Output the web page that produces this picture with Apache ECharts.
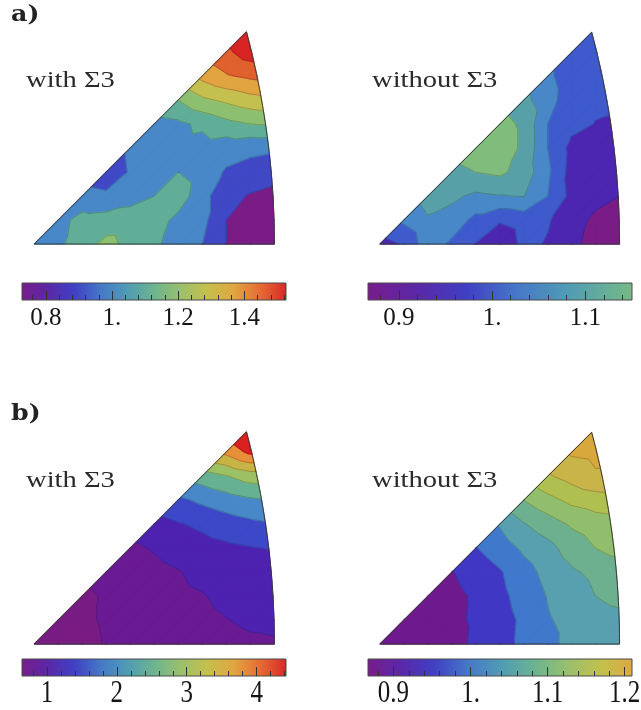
<!DOCTYPE html>
<html>
<head>
<meta charset="utf-8">
<script src="https://cdn.jsdelivr.net/npm/echarts@6.0.0/dist/echarts.min.js"></script>
<style>
html,body{margin:0;padding:0;background:#fff;}
#chart{width:641px;height:710px;}
</style>
</head>
<body>
<div id="chart"></div>
<script>
// ================= DATA =================
// Node values on a regular grid in stereographic coordinates of the standard triangle:
// column i = 0..10 (x from 0 to tan 22.5°), row j = 0..9 (y upward). null = not used (outside).
const aWithValues = [
  [0.95, 0.98, 1.05, 1.13, 1.07, 1.02, 0.95, 0.90, 0.80, 0.75, 0.74],
  [null, 0.97, 1.03, 1.04, 1.05, 1.05, 0.97, 0.93, 0.80, 0.76, 0.75],
  [null, null, 0.94, 0.92, 0.96, 1.00, 1.06, 0.93, 0.84, 0.79, 0.76],
  [null, null, null, 0.83, 0.91, 0.97, 1.00, 0.95, 0.89, 0.87, 0.85],
  [null, null, null, null, 0.92, 0.96, 0.97, 0.96, 0.94, 0.92, 0.91],
  [null, null, null, null, null, 0.96, 0.98, 1.02, 1.07, 1.10, 1.11],
  [null, null, null, null, null, null, 1.10, 1.18, 1.22, 1.26, 1.28],
  [null, null, null, null, null, null, null, 1.33, 1.39, 1.42, 1.44],
  [null, null, null, null, null, null, null, null, 1.48, 1.55, 1.56],
  [null, null, null, null, null, null, null, null, null, 1.60, 1.60]
];
const aWithoutValues = [
  [0.93, 0.955, 1.03, 0.99, 0.948, 0.915, 0.962, 0.946, 0.91, 0.885, 0.875],
  [null, 1.01, 1.045, 1.03, 0.985, 0.955, 0.97, 0.955, 0.92, 0.89, 0.88],
  [null, null, 1.07, 1.06, 1.04, 1.048, 1.052, 1.0, 0.935, 0.915, 0.90],
  [null, null, null, 1.09, 1.10, 1.11, 1.08, 1.01, 0.93, 0.91, 0.905],
  [null, null, null, null, 1.12, 1.13, 1.09, 1.0, 0.935, 0.91, 0.905],
  [null, null, null, null, null, 1.12, 1.09, 1.0, 0.965, 0.948, 0.945],
  [null, null, null, null, null, null, 1.065, 1.02, 0.97, 0.96, 0.955],
  [null, null, null, null, null, null, null, 1.01, 0.975, 0.965, 0.96],
  [null, null, null, null, null, null, null, null, 0.97, 0.965, 0.96],
  [null, null, null, null, null, null, null, null, null, 0.965, 0.96]
];
const bWithValues = [
  [0.70, 0.72, 0.75, 0.81, 0.90, 0.95, 1.00, 1.05, 1.10, 1.15, 1.17],
  [null, 0.74, 0.77, 0.82, 0.92, 0.98, 1.05, 1.12, 1.19, 1.25, 1.26],
  [null, null, 0.76, 0.82, 0.95, 1.05, 1.12, 1.18, 1.28, 1.35, 1.38],
  [null, null, null, 0.88, 1.00, 1.10, 1.18, 1.30, 1.40, 1.45, 1.50],
  [null, null, null, null, 1.12, 1.23, 1.35, 1.45, 1.52, 1.58, 1.62],
  [null, null, null, null, null, 1.45, 1.57, 1.68, 1.81, 1.91, 1.98],
  [null, null, null, null, null, null, 1.92, 2.08, 2.22, 2.34, 2.42],
  [null, null, null, null, null, null, null, 2.60, 2.78, 2.99, 3.05],
  [null, null, null, null, null, null, null, null, 3.72, 4.10, 4.10],
  [null, null, null, null, null, null, null, null, null, 4.60, 4.50]
];
const bWithoutValues = [
  [0.86, 0.87, 0.88, 0.885, 0.908, 0.927, 0.948, 0.971, 0.99, 1.0, 1.01],
  [null, 0.87, 0.88, 0.89, 0.906, 0.925, 0.947, 0.977, 0.99, 1.005, 1.01],
  [null, null, 0.88, 0.89, 0.905, 0.93, 0.955, 0.982, 0.998, 1.02, 1.03],
  [null, null, null, 0.898, 0.916, 0.936, 0.965, 0.992, 1.014, 1.03, 1.04],
  [null, null, null, null, 0.938, 0.96, 0.987, 1.007, 1.037, 1.06, 1.075],
  [null, null, null, null, null, 0.983, 1.017, 1.041, 1.065, 1.08, 1.095],
  [null, null, null, null, null, null, 1.06, 1.087, 1.11, 1.12, 1.125],
  [null, null, null, null, null, null, null, 1.135, 1.155, 1.175, 1.18],
  [null, null, null, null, null, null, null, null, 1.185, 1.19, 1.19],
  [null, null, null, null, null, null, null, null, null, 1.205, 1.21]
];

// contour levels
const aWithLevels = [0.8, 0.9, 1.0, 1.1, 1.2, 1.3, 1.4, 1.5];
const aWithoutLevels = [0.9, 0.95, 1.0, 1.05, 1.1];
const bWithLevels = [0.8, 1.2, 1.6, 2.0, 2.4, 2.8, 3.2, 3.6, 4.0];
const bWithoutLevels = [0.9, 0.94, 0.98, 1.02, 1.06, 1.10, 1.14, 1.18];

// colour-bar ranges, tick values and tick labels
const aWithBarRange = [0.728, 1.526];
const aWithTicks = [0.8, 1.0, 1.2, 1.4];
const aWithTickLabels = ['0.8', '1.', '1.2', '1.4'];
const aWithMinorStep = 0.04;

const aWithoutBarRange = [0.867, 1.150];
const aWithoutTicks = [0.9, 1.0, 1.1];
const aWithoutTickLabels = ['0.9', '1.', '1.1'];
const aWithoutMinorStep = 0.02;

const bWithBarRange = [0.643, 4.42];
const bWithTicks = [1, 2, 3, 4];
const bWithTickLabels = ['1', '2', '3', '4'];
const bWithMinorStep = 0.2;

const bWithoutBarRange = [0.867, 1.2095];
const bWithoutTicks = [0.9, 1.0, 1.1, 1.2];
const bWithoutTickLabels = ['0.9', '1.', '1.1', '1.2'];
const bWithoutMinorStep = 0.02;

const panelTitles = ['with Σ3', 'without Σ3', 'with Σ3', 'without Σ3'];
const rowLabels = ['a)', 'b)'];

// ================= STYLES =================
const rainbowStops = [
  [0, '#781c8a'], [0.1, '#5a28a8'], [0.2, '#4040c4'], [0.3, '#4678c8'], [0.4, '#509cb4'],
  [0.5, '#6cb490'], [0.6, '#9ac06c'], [0.7, '#c4c04c'], [0.8, '#e0a640'], [0.9, '#e66c34'], [1, '#d82828']
];
// how far along the rainbow each colour bar runs
const barRainbowEnd = [1, 0.53, 1, 0.79];
const aWithBandColors = ['#7a1c86', '#4048c6', '#4888c8', '#60ae98', '#8cc070', '#c4c050', '#e0a440', '#e0602e', '#d82424'];
const aWithoutBandColors = ['#7a1c86', '#4c26b0', '#3e5acc', '#4888c8', '#58a0a8', '#80bc7c'];
const bWithBandColors = ['#781c84', '#6a1a92', '#4e22b0', '#3c48c8', '#4888c8', '#66b094', '#9cc064', '#c8b444', '#e89038', '#dc2020'];
const bWithoutBandColors = ['#6e1a8e', '#4038c4', '#4078cc', '#58a0b0', '#6cb090', '#90be6c', '#b0c050', '#c8b448', '#d8a83c'];

// ================= GEOMETRY =================
const X101 = Math.tan(Math.PI / 8);          // [101] on the x axis
const Y111 = (Math.sqrt(3) - 1) / 2;         // [111] at (Y111, Y111)
const STEP = X101 / 10;                      // node spacing

function insideArc(p) { return (p[0] + 1) * (p[0] + 1) + p[1] * p[1] <= 2 + 1e-12; }
function arcCut(p, q) {
  const ax = p[0] + 1, ay = p[1], dx = q[0] - p[0], dy = q[1] - p[1], dv = q[2] - p[2];
  const A = dx * dx + dy * dy, B = 2 * (ax * dx + ay * dy), C = ax * ax + ay * ay - 2;
  const D = Math.sqrt(Math.max(0, B * B - 4 * A * C));
  let t = (-B + D) / (2 * A);
  if (t < 0 || t > 1) t = (-B - D) / (2 * A);
  t = Math.min(1, Math.max(0, t));
  return [p[0] + t * dx, p[1] + t * dy, p[2] + t * dv];
}
function clipPoly(poly, inside, cut) {
  const out = [];
  for (let k = 0; k < poly.length; k++) {
    const p = poly[k], q = poly[(k + 1) % poly.length];
    const pin = inside(p), qin = inside(q);
    if (pin) { out.push(p); if (!qin) out.push(cut(p, q)); }
    else if (qin) out.push(cut(p, q));
  }
  return out;
}
function levelCut(L) {
  return (p, q) => {
    const t = (L - p[2]) / (q[2] - p[2]);
    return [p[0] + t * (q[0] - p[0]), p[1] + t * (q[1] - p[1]), L];
  };
}
function triangle(vals, i, j, t) {
  const idx = t === 0 ? [[i, j], [i + 1, j], [i + 1, j + 1]] : [[i, j], [i + 1, j + 1], [i, j + 1]];
  const pts = [];
  for (const [a, b] of idx) {
    const v = vals[b][a];
    if (v == null) return null;
    pts.push([a * STEP, b * STEP, v]);
  }
  const c = clipPoly(pts, insideArc, arcCut);
  return c.length >= 3 ? c : null;
}
function triData(vals) {
  const data = [];
  for (let j = 0; j < vals.length - 1; j++) {
    for (let i = 0; i < vals[0].length - 1; i++) {
      for (let t = 0; t < 2; t++) {
        const poly = triangle(vals, i, j, t);
        if (!poly) continue;
        let cx = 0, cy = 0;
        poly.forEach(p => { cx += p[0]; cy += p[1]; });
        data.push([cx / poly.length, cy / poly.length, i, j, t]);
      }
    }
  }
  return data;
}
function hexToRgb(h) { return [1, 3, 5].map(k => parseInt(h.substr(k, 2), 16)); }
function rainbowAt(t) {
  for (let k = 1; k < rainbowStops.length; k++) {
    if (t <= rainbowStops[k][0] + 1e-12) {
      const [t0, c0] = rainbowStops[k - 1], [t1, c1] = rainbowStops[k];
      const f = (t - t0) / (t1 - t0), a = hexToRgb(c0), b = hexToRgb(c1);
      return 'rgb(' + a.map((x, n) => Math.round(x + f * (b[n] - x))).join(',') + ')';
    }
  }
  return rainbowStops[rainbowStops.length - 1][1];
}
function barGradient(end) {
  const stops = rainbowStops.filter(s => s[0] < end - 1e-9).map(s => ({ offset: s[0] / end, color: s[1] }));
  stops.push({ offset: 1, color: rainbowAt(end) });
  return new echarts.graphic.LinearGradient(0, 0, 1, 0, stops);
}

const panels = [
  { vals: aWithValues, levels: aWithLevels, colors: aWithBandColors, left: 34.3, bottom: 244, width: 240 },
  { vals: aWithoutValues, levels: aWithoutLevels, colors: aWithoutBandColors, left: 380, bottom: 244, width: 239.5 },
  { vals: bWithValues, levels: bWithLevels, colors: bWithBandColors, left: 34.3, bottom: 644, width: 240 },
  { vals: bWithoutValues, levels: bWithoutLevels, colors: bWithoutBandColors, left: 380, bottom: 644, width: 239.5 }
];
const bars = [
  { range: aWithBarRange, ticks: aWithTicks, labels: aWithTickLabels, minor: aWithMinorStep, left: 22, top: 283, width: 264, height: 17, labelGap: 5.6, labelScaleY: 1 },
  { range: aWithoutBarRange, ticks: aWithoutTicks, labels: aWithoutTickLabels, minor: aWithoutMinorStep, left: 368, top: 283, width: 264, height: 17, labelGap: 5.6, labelScaleY: 1 },
  { range: bWithBarRange, ticks: bWithTicks, labels: bWithTickLabels, minor: bWithMinorStep, left: 22, top: 659, width: 264, height: 17, labelGap: 1.8, labelScaleY: 1.27 },
  { range: bWithoutBarRange, ticks: bWithoutTicks, labels: bWithoutTickLabels, minor: bWithoutMinorStep, left: 368, top: 659, width: 264, height: 17, labelGap: 1.8, labelScaleY: 1.27 }
];

const grid = [], xAxis = [], yAxis = [], series = [];

panels.forEach((p, k) => {
  const h = p.width * Y111 / X101;
  grid.push({ left: p.left, top: p.bottom - h, width: p.width, height: h });
  xAxis.push({ gridIndex: k, type: 'value', min: 0, max: X101, show: false });
  yAxis.push({ gridIndex: k, type: 'value', min: 0, max: Y111, show: false });
  const data = triData(p.vals);
  // filled bands
  series.push({
    type: 'custom', coordinateSystem: 'cartesian2d', xAxisIndex: k, yAxisIndex: k,
    silent: true, z: 2, encode: { x: 0, y: 1 }, data: data,
    renderItem: (params, api) => {
      const poly = triangle(p.vals, api.value(2), api.value(3), api.value(4));
      const children = [];
      if (poly) {
        for (let b = 0; b <= p.levels.length; b++) {
          let q = poly;
          if (b > 0) { const L = p.levels[b - 1]; q = clipPoly(q, v => v[2] >= L, levelCut(L)); }
          if (q.length >= 3 && b < p.levels.length) { const H = p.levels[b]; q = clipPoly(q, v => v[2] <= H, levelCut(H)); }
          if (q.length < 3) continue;
          children.push({
            type: 'polygon',
            shape: { points: q.map(v => api.coord([v[0], v[1]])) },
            style: { fill: p.colors[b], stroke: p.colors[b], lineWidth: 1.3, lineJoin: 'round' }
          });
        }
      }
      return { type: 'group', children };
    }
  });
  // contour lines
  series.push({
    type: 'custom', coordinateSystem: 'cartesian2d', xAxisIndex: k, yAxisIndex: k,
    silent: true, z: 3, encode: { x: 0, y: 1 }, data: data,
    renderItem: (params, api) => {
      const poly = triangle(p.vals, api.value(2), api.value(3), api.value(4));
      const children = [];
      if (poly) {
        p.levels.forEach(L => {
          const pts = [];
          for (let e = 0; e < poly.length; e++) {
            const a = poly[e], c = poly[(e + 1) % poly.length];
            if ((a[2] >= L) !== (c[2] >= L)) {
              const t = (L - a[2]) / (c[2] - a[2]);
              pts.push(api.coord([a[0] + t * (c[0] - a[0]), a[1] + t * (c[1] - a[1])]));
            }
          }
          if (pts.length === 2) {
            children.push({
              type: 'line',
              shape: { x1: pts[0][0], y1: pts[0][1], x2: pts[1][0], y2: pts[1][1] },
              style: { stroke: 'rgba(30,30,40,0.35)', lineWidth: 0.7 }
            });
          }
        });
      }
      return { type: 'group', children };
    }
  });
  // outline of the standard triangle
  series.push({
    type: 'custom', coordinateSystem: 'cartesian2d', xAxisIndex: k, yAxisIndex: k,
    silent: true, z: 4, encode: { x: 0, y: 1 }, data: [[X101 / 2, Y111 / 2]],
    renderItem: (params, api) => {
      const pts = [api.coord([0, 0]), api.coord([X101, 0])];
      const th = Math.asin(Y111 / Math.SQRT2);
      for (let s = 1; s <= 40; s++) {
        const a = th * s / 40;
        pts.push(api.coord([Math.SQRT2 * Math.cos(a) - 1, Math.SQRT2 * Math.sin(a)]));
      }
      pts.push(api.coord([0, 0]));
      return { type: 'polyline', shape: { points: pts }, style: { stroke: '#3a3a3a', lineWidth: 1, fill: null } };
    }
  });
});

bars.forEach((b, n) => {
  const g = grid.length;
  grid.push({ left: b.left, top: b.top, width: b.width, height: b.height });
  const minors = [];
  for (let v = Math.ceil(b.range[0] / b.minor - 1e-9) * b.minor; v <= b.range[1] + 1e-9; v += b.minor) {
    const r = Math.round(v / b.minor) * b.minor;
    if (!b.ticks.some(m => Math.abs(m - r) < 1e-6)) minors.push(+r.toFixed(6));
  }
  xAxis.push({
    gridIndex: g, type: 'value', min: b.range[0], max: b.range[1], position: 'bottom', z: 6,
    axisLine: { show: false }, splitLine: { show: false }, axisLabel: { show: false },
    axisTick: { show: true, inside: true, length: 9, customValues: b.ticks, lineStyle: { color: '#333', width: 1 } }
  });
  xAxis.push({
    gridIndex: g, type: 'value', min: b.range[0], max: b.range[1], position: 'bottom', z: 6,
    axisLine: { show: false }, splitLine: { show: false }, axisLabel: { show: false },
    axisTick: { show: true, inside: true, length: 5, customValues: minors, lineStyle: { color: '#333', width: 1 } }
  });
  yAxis.push({ gridIndex: g, type: 'value', min: 0, max: 1, show: false });
  const xi = xAxis.length - 2, yi = yAxis.length - 1;
  // gradient bar
  series.push({
    type: 'custom', coordinateSystem: 'cartesian2d', xAxisIndex: xi, yAxisIndex: yi,
    silent: true, z: 2, encode: { x: 0, y: 1 }, data: [[(b.range[0] + b.range[1]) / 2, 0.5]],
    renderItem: (params, api) => {
      const p0 = api.coord([b.range[0], 1]), p1 = api.coord([b.range[1], 0]);
      return {
        type: 'rect',
        shape: { x: p0[0], y: p0[1], width: p1[0] - p0[0], height: p1[1] - p0[1] },
        style: { fill: barGradient(barRainbowEnd[n]), stroke: '#4a4a4a', lineWidth: 1 }
      };
    }
  });
  // tick labels below the bar, positioned through the bar's axis
  series.push({
    type: 'custom', coordinateSystem: 'cartesian2d', xAxisIndex: xi, yAxisIndex: yi,
    silent: true, z: 5, clip: false, encode: { x: 0, y: 1 },
    data: b.ticks.map((v, i) => [v, 0, i]),
    renderItem: (params, api) => {
      const pos = api.coord([api.value(0), 0]);
      return {
        type: 'text', x: pos[0], y: pos[1] + b.labelGap, scaleY: b.labelScaleY,
        style: {
          text: b.labels[api.value(2)], font: '25px "Liberation Serif"', fill: '#151515',
          align: 'center', verticalAlign: 'top', textAlign: 'center', textVerticalAlign: 'top'
        }
      };
    }
  });
});

const titleFont = '24px "Liberation Serif"';
const titleStretch = 1.19;
const graphic = [
  { type: 'text', x: 26, y: 81.2, scaleX: titleStretch, style: { text: panelTitles[0], font: titleFont, fill: '#2a2a2a', verticalAlign: 'middle' } },
  { type: 'text', x: 372, y: 81.2, scaleX: titleStretch, style: { text: panelTitles[1], font: titleFont, fill: '#2a2a2a', verticalAlign: 'middle' } },
  { type: 'text', x: 26, y: 481.2, scaleX: titleStretch, style: { text: panelTitles[2], font: titleFont, fill: '#2a2a2a', verticalAlign: 'middle' } },
  { type: 'text', x: 372, y: 481.2, scaleX: titleStretch, style: { text: panelTitles[3], font: titleFont, fill: '#2a2a2a', verticalAlign: 'middle' } },
  { type: 'text', x: 11, y: 15.7, scaleX: 1.15, style: { text: rowLabels[0], font: 'bold 22px "DejaVu Serif"', fill: '#222', verticalAlign: 'middle' } },
  { type: 'text', x: 11, y: 414.1, scaleX: 1.15, style: { text: rowLabels[1], font: 'bold 22px "DejaVu Serif"', fill: '#222', verticalAlign: 'middle' } }
];

const chart = echarts.init(document.getElementById('chart'), null, { renderer: 'canvas' });
chart.setOption({ animation: false, backgroundColor: '#fff', grid, xAxis, yAxis, series, graphic });
</script>
</body>
</html>
